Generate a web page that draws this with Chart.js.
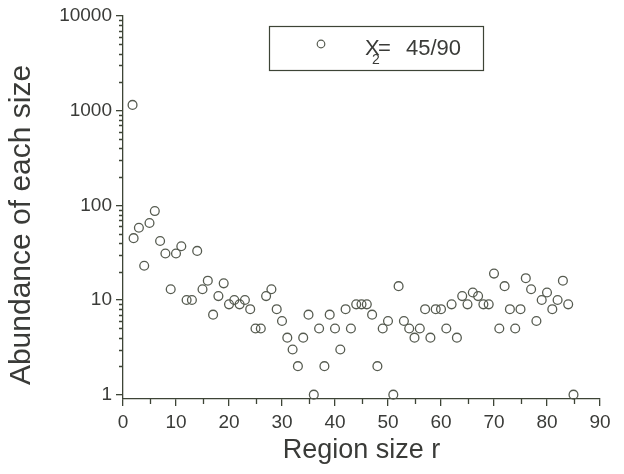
<!DOCTYPE html>
<html>
<head>
<meta charset="utf-8">
<script src="https://cdn.jsdelivr.net/npm/chart.js@4.4.0/dist/chart.umd.min.js"></script>
<style>
  html, body { margin: 0; padding: 0; background: #fff; }
  #wrap { width: 624px; height: 474px; }
</style>
</head>
<body>
<div id="wrap"><canvas id="abundance" width="624" height="474"></canvas></div>
<script>
// region size r and the number of regions found with that size
const regionSizes = [
  1.8, 2, 3, 4, 5, 6, 7, 8, 9, 10, 11, 12, 13, 14, 15, 16, 17, 18, 19, 20,
  21, 22, 23, 24, 25, 26, 27, 28, 29, 30, 31, 32, 33, 34, 35, 36, 37, 38, 39, 40,
  41, 42, 43, 44, 45, 46, 47, 48, 49, 50, 51, 52, 53, 54, 55, 56, 57, 58, 59, 60,
  61, 62, 63, 64, 65, 66, 67, 68, 69, 70, 71, 72, 73, 74, 75, 76, 77, 78, 79, 80,
  81, 82, 83, 84, 85
]
const abundance = [
  1150, 45, 58, 23, 65, 87, 42, 31, 13, 31, 37, 10, 10, 33, 13, 16, 7, 11, 15, 9,
  10, 9, 10, 8, 5, 5, 11, 13, 8, 6, 4, 3, 2, 4, 7, 1, 5, 2, 7, 5,
  3, 8, 5, 9, 9, 9, 7, 2, 5, 6, 1, 14, 6, 5, 4, 5, 8, 4, 8, 8,
  5, 9, 4, 11, 9, 12, 11, 9, 9, 19, 5, 14, 8, 5, 8, 17, 13, 6, 10, 12,
  8, 10, 16, 9, 1
]

const xTicks = [0, 10, 20, 30, 40, 50, 60, 70, 80, 90]
const xMinorTicks = [5, 15, 25, 35, 45, 55, 65, 75, 85]
const yTicks = [1, 10, 100, 1000, 10000]
const yMinorSteps = [2, 3, 4, 5, 6, 7, 8, 9]

const seriesLabel = { main: 'X', sub: '2', rest: '=', value: '45/90' }
const yTitle = 'Abundance of each size'

const ink = '#3d4436'
const textColor = '#3a3b38'
const markerColor = '#565b50'
const fontFamily = '"Liberation Sans", Arial, sans-serif'

// short unlabelled ticks between the labelled ones
const minorTicks = {
  id: 'minorTicks',
  afterDraw(chart) {
    const { ctx, scales: { x, y } } = chart
    ctx.save()
    ctx.strokeStyle = ink
    ctx.lineWidth = 1.3
    ctx.beginPath()
    yTicks.slice(0, -1).forEach(decade => {
      yMinorSteps.forEach(k => {
        const py = Math.round(y.getPixelForValue(k * decade)) + 0.5
        ctx.moveTo(y.right - 4, py)
        ctx.lineTo(y.right, py)
      })
    })
    xMinorTicks.forEach(v => {
      const px = Math.round(x.getPixelForValue(v)) + 0.5
      ctx.moveTo(px, x.top)
      ctx.lineTo(px, x.top + 5)
    })
    ctx.stroke()
    ctx.restore()
  }
}

// y axis title sits a little below the middle of the axis, so it is drawn here
const sideTitle = {
  id: 'sideTitle',
  afterDraw(chart) {
    const { ctx, chartArea } = chart
    ctx.save()
    ctx.translate(22, chartArea.top + 209)
    ctx.rotate(-Math.PI / 2)
    ctx.fillStyle = textColor
    ctx.font = '30px ' + fontFamily
    ctx.textAlign = 'center'
    ctx.textBaseline = 'middle'
    ctx.fillText(yTitle, 0, 0)
    ctx.restore()
  }
}

// framed key in the upper part of the plot, with a subscript in the label
const legendBox = {
  id: 'legendBox',
  afterDraw(chart) {
    const { ctx, chartArea } = chart
    const left = chartArea.left + 146
    const top = chartArea.top + 10
    ctx.save()
    ctx.strokeStyle = ink
    ctx.lineWidth = 1.2
    ctx.strokeRect(left + 0.5, top + 0.5, 214, 44)

    ctx.beginPath()
    ctx.arc(left + 52, top + 18, 3.8, 0, Math.PI * 2)
    ctx.strokeStyle = markerColor
    ctx.lineWidth = 1.2
    ctx.stroke()

    ctx.fillStyle = textColor
    ctx.textBaseline = 'alphabetic'
    ctx.font = '22px ' + fontFamily
    ctx.fillText(seriesLabel.main, left + 96, top + 29)
    ctx.font = '14px ' + fontFamily
    ctx.fillText(seriesLabel.sub, left + 103, top + 38)
    ctx.font = '22px ' + fontFamily
    ctx.fillText(seriesLabel.rest, left + 109, top + 29)
    ctx.fillText(seriesLabel.value, left + 137, top + 29)
    ctx.restore()
  }
}

new Chart(document.getElementById('abundance'), {
  type: 'scatter',
  data: {
    datasets: [{
      label: 'X2 = 45/90',
      data: regionSizes.map((r, i) => ({ x: r, y: abundance[i] })),
      pointStyle: 'circle',
      pointRadius: 4.4,
      pointBorderWidth: 1.3,
      pointBorderColor: markerColor,
      pointBackgroundColor: 'rgba(0,0,0,0)',
      clip: false
    }]
  },
  options: {
    responsive: false,
    animation: false,
    layout: { padding: { left: 0, top: 16, right: 24, bottom: 0 } },
    plugins: {
      legend: { display: false },
      tooltip: { enabled: false }
    },
    scales: {
      x: {
        type: 'linear',
        min: 0,
        max: 90,
        afterFit: scale => { scale.height = 75 },
        afterBuildTicks: scale => { scale.ticks = xTicks.map(v => ({ value: v })) },
        grid: { drawOnChartArea: false, tickLength: 7, color: ink, lineWidth: 1.3 },
        border: { color: ink, width: 1.3 },
        ticks: {
          autoSkip: false,
          maxRotation: 0,
          padding: 5,
          color: textColor,
          font: { family: fontFamily, size: 19 },
          callback: v => String(v)
        },
        title: {
          display: true,
          text: 'Region size r',
          color: textColor,
          font: { family: fontFamily, size: 27 },
          padding: { top: 0, bottom: 7 }
        }
      },
      y: {
        type: 'logarithmic',
        min: 0.9,
        max: 10000,
        afterFit: scale => { scale.width = 123 },
        afterBuildTicks: scale => { scale.ticks = yTicks.map(v => ({ value: v })) },
        grid: { drawOnChartArea: false, tickLength: 7, color: ink, lineWidth: 1.3 },
        border: { color: ink, width: 1.3 },
        ticks: {
          autoSkip: false,
          padding: 4,
          color: textColor,
          font: { family: fontFamily, size: 19 },
          callback: v => String(v)
        }
      }
    }
  },
  plugins: [minorTicks, sideTitle, legendBox]
})
</script>
</body>
</html>
